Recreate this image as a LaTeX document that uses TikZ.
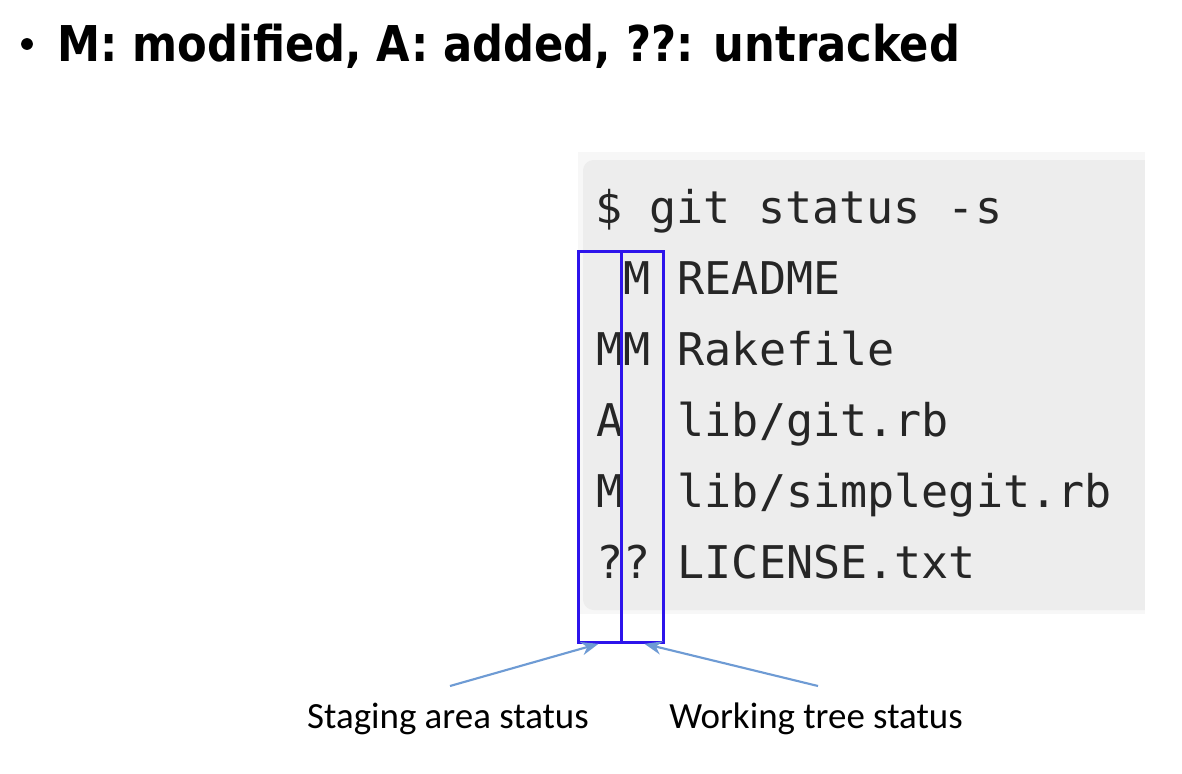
\documentclass[tikz,border=0pt]{standalone}
\usepackage{fontspec}
\setmainfont{Carlito}
\setmonofont{DejaVu Sans Mono}
\newfontfamily\headfont{DejaVu Sans Condensed}
\usetikzlibrary{arrows.meta}

\definecolor{codegray}{RGB}{237,237,237}
\definecolor{colblue}{RGB}{45,20,235}
\definecolor{pointblue}{RGB}{110,155,212}

\tikzset{
    codeline/.style={anchor=base west, inner sep=0pt, text=black!85,
        font=\fontsize{33.8}{40}\selectfont\ttfamily},
    statcol/.style={draw=colblue, line width=2.1pt, inner sep=0pt,
        anchor=north west, minimum height=293.25pt},
    caption/.style={anchor=base, inner sep=0pt, font=\fontsize{27.7}{32}\selectfont},
    pointer/.style={draw=pointblue, line width=1.6pt,
        -{Stealth[length=13pt,width=10pt]}}
}

\begin{document}
\begin{tikzpicture}[x=0.75pt,y=-0.75pt]
    \useasboundingbox (0,0) rectangle (1182,774);
    % heading
    \fill[black] (27,44) circle (4.4pt);
    \node[anchor=base west, inner sep=0pt,
        font=\headfont\bfseries\fontsize{37}{42}\selectfont] (head) at (57,62)
        {\scalebox{0.974}[1]{M: modified, A: added, ??: untracked}};
    % code block
    \fill[black!3] (578,152) rectangle (1145,614);
    \fill[codegray, rounded corners=8pt] (583,160) rectangle (1160,610);
    \fill[white] (1145,140) rectangle (1182,620);
    \node[codeline] (cmd) at (595,223) {\$ git status -s};
    \node[codeline] (r1) at (596,294) {\hphantom{M}M README};
    \node[codeline] (r2) at (596,365) {MM Rakefile};
    \node[codeline] (r3) at (596,436) {A\hphantom{M} lib/git.rb};
    \node[codeline] (r4) at (596,507) {M\hphantom{M} lib/simplegit.rb};
    \node[codeline] (r5) at (596,578) {?? LICENSE.txt};
    % status columns
    \node[statcol, minimum width=32.25pt] (stagecol) at (577,250) {};
    \node[statcol, minimum width=31.5pt] (workcol) at (620,250) {};
    % captions
    \node[caption] (stagelbl) at (448,728) {Staging area status};
    \node[caption] (worklbl) at (816,728) {Working tree status};
    \coordinate (stagetail) at (450,686);
    \coordinate (worktail) at (818,686);
    \draw[pointer] (stagetail) -- ([xshift=-1pt]stagecol.south);
    \draw[pointer] (worktail) -- ([xshift=1.5pt]workcol.south);
\end{tikzpicture}
\end{document}
